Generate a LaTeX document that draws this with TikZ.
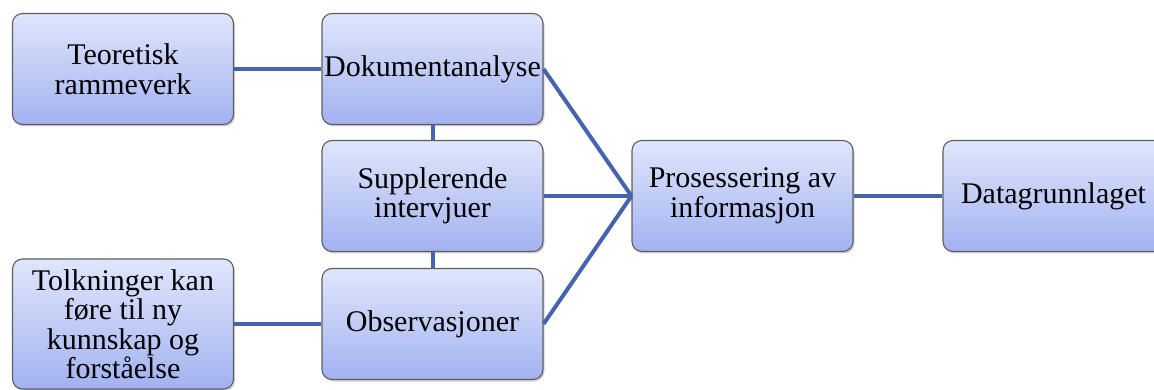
\documentclass[tikz,border=0pt]{standalone}
\usepackage{fontspec}
\setmainfont{Liberation Serif}
\usetikzlibrary{shadows}
\definecolor{boxtop}{HTML}{E0E6FC}
\definecolor{boxbot}{HTML}{A2B2F1}
\definecolor{boxline}{HTML}{5E5E5E}
\definecolor{linkcol}{HTML}{4763AE}
\tikzset{
  stepbox/.style={rectangle, rounded corners=10pt, draw=boxline, line width=1.1pt,
    top color=boxtop, bottom color=boxbot, align=center, inner sep=2pt,
    minimum width=221pt, minimum height=111pt,
    font=\fontsize{30}{29.5}\selectfont,
    drop shadow={shadow xshift=1.5pt, shadow yshift=-2pt, opacity=0.35, fill=gray}},
  conn/.style={draw=linkcol, line width=4pt}
}
\begin{document}
\begin{tikzpicture}[x=1pt,y=-1pt]
\useasboundingbox (0,0) rectangle (1154,390);
\clip (0,0) rectangle (1154,390);
\node[stepbox] (teo) at (123,69) {Teoretisk\\rammeverk};
\node[stepbox] (dok) at (432.5,69) {Dokumentanalyse};
\node[stepbox] (sup) at (432.5,196) {Supplerende\\intervjuer};
\node[stepbox] (obs) at (432.5,324) {Observasjoner};
\node[stepbox, minimum height=130pt] (tol) at (123,324) {Tolkninger kan\\føre til ny\\kunnskap og\\forståelse};
\node[stepbox] (pro) at (742.5,196) {Prosessering av\\informasjon};
\node[stepbox] (dat) at (1053.5,196) {Datagrunnlaget};
\draw[conn] (teo.east) -- (dok.west);
\draw[conn] (dok.south) -- (sup.north);
\draw[conn] (sup.south) -- (obs.north);
\draw[conn] (tol.east) -- (obs.west);
\draw[conn] (dok.east) -- (pro.west);
\draw[conn] (sup.east) -- (pro.west);
\draw[conn] (obs.east) -- (pro.west);
\draw[conn] (pro.east) -- (dat.west);
\end{tikzpicture}
\end{document}
